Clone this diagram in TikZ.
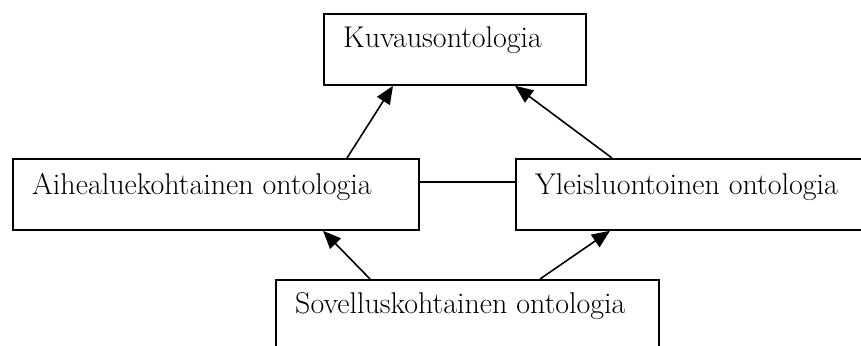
\documentclass[tikz,border=0pt]{standalone}
\usetikzlibrary{arrows.meta,calc}
\begin{document}
\begin{tikzpicture}[x=1pt,y=-1pt,
  box/.style={draw=black,line width=1.8pt,rectangle,inner sep=0pt,anchor=north west},
  lbl/.style={anchor=base west,inner sep=0pt,font=\fontsize{30}{36}\selectfont},
  arr/.style={line width=1.6pt,-{Triangle[length=18pt,width=15pt]}},
  link/.style={line width=1.6pt}]
\useasboundingbox (0,0) rectangle (861,345);
\clip (0,0) rectangle (861,345);
% ontology boxes (drawn from their top-left corners)
\node[box,minimum width=262pt,minimum height=71pt] (kuv) at (323,13) {};
\node[box,minimum width=406pt,minimum height=71pt] (ale) at (12,158) {};
\node[box,minimum width=355pt,minimum height=71pt] (yle) at (515,158) {};
\node[box,minimum width=383pt,minimum height=71pt] (sov) at (275,279) {};
% box titles, set near the top of each box
\node[lbl] (tkuv) at ($(kuv.north west)+(20,35)$) {Kuvausontologia};
\node[lbl] (tale) at ($(ale.north west)+(20,36)$) {Aihealuekohtainen ontologia};
\node[lbl] (tyle) at ($(yle.north west)+(20,36)$) {Yleisluontoinen ontologia};
\node[lbl] (tsov) at ($(sov.north west)+(20,34)$) {Sovelluskohtainen ontologia};
% generalisation arrows
\draw[arr] ($(ale.north west)+(335,0)$) -- ($(kuv.south west)+(70,0)$);
\draw[arr] ($(yle.north west)+(97,0)$) -- ($(kuv.south west)+(192,0)$);
\draw[arr] ($(sov.north west)+(95,0)$) -- ($(ale.south west)+(311,0)$);
\draw[arr] ($(sov.north west)+(265,0)$) -- ($(yle.south west)+(95,0)$);
% plain link between the two middle boxes
\coordinate (lk) at ($(ale.north east)+(0,24)$);
\draw[link] (lk) -- (lk -| yle.west);
\end{tikzpicture}
\end{document}
